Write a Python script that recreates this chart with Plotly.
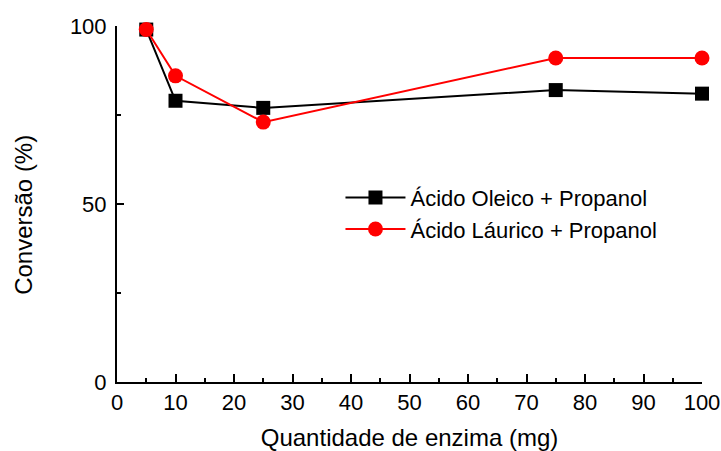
import plotly.graph_objects as go

x_vals = [5, 10, 25, 75, 100]
oleico = [99, 79, 77, 82, 81]
laurico = [99, 86, 73, 91, 91]
series_names = ["Ácido Oleico + Propanol", "Ácido Láurico + Propanol"]
x_title = "Quantidade de enzima (mg)"
y_title = "Conversão (%)"

fig = go.Figure()
fig.add_trace(go.Scatter(x=x_vals, y=oleico, mode="lines+markers", name=series_names[0],
                         line=dict(color="black", width=2),
                         marker=dict(symbol="square", size=14, color="black"),
                         cliponaxis=False))
fig.add_trace(go.Scatter(x=x_vals, y=laurico, mode="lines+markers", name=series_names[1],
                         line=dict(color="#ff0000", width=2),
                         marker=dict(symbol="circle", size=15, color="#ff0000"),
                         cliponaxis=False))

font_family = "Liberation Sans, Arial, sans-serif"
fig.update_layout(
    width=721, height=451,
    margin=dict(l=117, r=19, t=26, b=69, autoexpand=False),
    paper_bgcolor="white", plot_bgcolor="white",
    font=dict(family=font_family, size=22, color="black"),
    legend=dict(x=0.382, y=0.577, xanchor="left", yanchor="top",
                font=dict(family=font_family, size=22), itemwidth=60, bgcolor="rgba(0,0,0,0)",
                tracegroupgap=0),
    showlegend=True,
)
fig.add_annotation(text=y_title, xref="paper", yref="paper", x=-0.161, y=0.469,
                   xanchor="center", yanchor="middle", textangle=-90, showarrow=False,
                   font=dict(family=font_family, size=24, color="black"))
fig.update_xaxes(range=[0, 100], tickmode="linear", tick0=0, dtick=10,
                 showline=True, linecolor="black", linewidth=2,
                 ticks="inside", ticklen=8, tickwidth=2, tickcolor="black",
                 minor=dict(ticks="inside", ticklen=4, tickwidth=2, dtick=5, tick0=0, tickcolor="black"),
                 showgrid=False, zeroline=False,
                 title=dict(text=x_title, standoff=16,
                            font=dict(family=font_family, size=24)),
                 tickfont=dict(family=font_family, size=22))
fig.update_yaxes(range=[0, 100], tickmode="linear", tick0=0, dtick=50,
                 showline=True, linecolor="black", linewidth=2,
                 ticks="inside", ticklen=7, tickwidth=2, tickcolor="black",
                 minor=dict(ticks="inside", ticklen=4, tickwidth=2, dtick=25, tick0=0, tickcolor="black"),
                 showgrid=False, zeroline=False, ticklabelstandoff=4,
                 tickfont=dict(family=font_family, size=22))

fig.write_html("out.html", config={"displayModeBar": False},
               post_script="document.body.style.margin='0';document.body.style.overflow='hidden';")
